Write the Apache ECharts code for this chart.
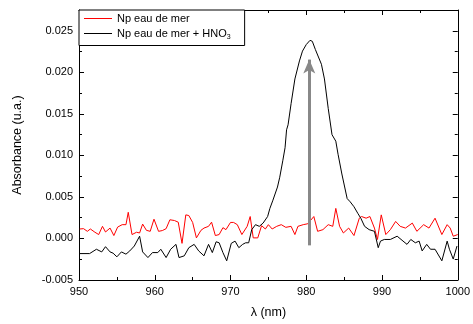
<!DOCTYPE html>
<html>
<head>
<meta charset="utf-8">
<script src="https://cdn.jsdelivr.net/npm/echarts@6/dist/echarts.min.js"></script>
<style>
  html, body { margin: 0; padding: 0; background: #fff; }
  #chart { width: 473px; height: 324px; }
</style>
</head>
<body>
<div id="chart"></div>
<script>
// wavelengths (nm) and absorbance
var redX = [950.1, 950.6, 951.1, 951.5, 952.1, 952.6, 953.1, 953.5, 954.1, 954.6, 955.1, 955.7, 956.2, 956.5, 957.0, 957.6, 958.0, 958.4, 958.9, 959.4, 959.9, 960.5, 961.0, 961.5, 962.0, 962.6, 963.1, 963.6, 964.1, 964.5, 965.0, 965.5, 966.1, 966.5, 967.1, 967.5, 968.0, 968.5, 969.0, 969.4, 970.0, 970.4, 970.9, 971.5, 972.2, 972.6, 973.0, 973.6, 974.1, 974.6, 975.0, 975.5, 976.1, 976.7, 977.3, 978.0, 978.5, 978.9, 979.6, 980.2, 981.0, 981.5, 982.2, 982.9, 983.5, 983.9, 984.4, 984.9, 985.6, 986.3, 987.0, 987.3, 987.9, 988.4, 989.0, 989.4, 989.9, 990.5, 991.1, 991.8, 992.4, 993.1, 994.0, 994.6, 995.5, 996.2, 997.0, 997.9, 998.6, 999.0, 999.4, 1000.0]
var redY = [0.00114, 0.00118, 0.00086, 0.00114, 0.00075, 0.00047, 0.00146, 0.00078, 0.00125, 0.00035, 0.00137, 0.00166, 0.00166, 0.00315, 0.00047, 0.00075, 0.00066, 0.00173, 0.00098, 0.00086, 0.00232, 0.00086, 0.00095, 0.00118, 0.00225, 0.00216, 0.00196, -0.00059, 0.00284, 0.00276, 0.00193, 0.00007, 0.00098, 0.00125, 0.00146, 0.00196, 0.00035, 0.00047, 0.00130, 0.00106, 0.00193, 0.00193, 0.00166, 0.00047, 0.00146, 0.00264, 0.00007, 0.00007, 0.00154, 0.00114, 0.00166, 0.00114, 0.00146, 0.00166, 0.00134, 0.00146, 0.00047, 0.00146, 0.00166, 0.00177, 0.00264, 0.00086, 0.00106, 0.00166, 0.00146, 0.00362, 0.00146, 0.00066, 0.00125, 0.00035, 0.00244, 0.00264, 0.00244, 0.00264, 0.00125, -0.00012, 0.00284, 0.00047, 0.00106, 0.00205, 0.00146, 0.00125, 0.00185, 0.00086, 0.00166, 0.00125, 0.00244, 0.00047, 0.00166, 0.00125, 0.00027, 0.00047]

var blackX = [950.1, 951.4, 952.3, 953.0, 953.5, 954.1, 954.5, 955.0, 955.6, 956.2, 956.7, 957.3, 958.0, 958.4, 959.1, 959.7, 960.4, 960.8, 961.5, 962.1, 962.8, 963.2, 963.9, 964.5, 965.2, 965.8, 966.5, 967.1, 967.6, 968.1, 968.5, 969.0, 969.5, 970.1, 970.6, 971.1, 971.6, 972.0, 972.4, 972.8, 973.3, 973.8, 974.3, 974.9, 975.2, 975.6, 976.2, 976.5, 976.9, 977.2, 977.4, 977.6, 978.0, 978.5, 979.1, 979.5, 980.0, 980.5, 980.8, 981.2, 982.0, 982.4, 982.9, 983.4, 983.9, 984.2, 984.7, 985.4, 985.8, 986.3, 986.8, 987.2, 987.7, 988.3, 989.0, 989.5, 989.8, 990.3, 991.1, 992.0, 993.3, 993.8, 994.4, 994.9, 995.3, 995.9, 996.4, 997.0, 997.9, 998.6, 998.9, 999.4, 999.9]
var blackY = [-0.00182, -0.00182, -0.00130, -0.00162, -0.00099, -0.00162, -0.00177, -0.00221, -0.00162, -0.00189, -0.00150, -0.00091, 0.00027, -0.00162, -0.00230, -0.00170, -0.00170, -0.00130, -0.00230, -0.00130, -0.00071, -0.00230, -0.00209, -0.00111, -0.00071, -0.00150, -0.00209, -0.00071, -0.00170, -0.00040, -0.00052, -0.00170, -0.00269, -0.00059, -0.00032, -0.00111, -0.00071, -0.00052, -0.00052, 0.00106, 0.00166, 0.00146, 0.00185, 0.00264, 0.00362, 0.00461, 0.00619, 0.00737, 0.00935, 0.01092, 0.01308, 0.01368, 0.01624, 0.01920, 0.02137, 0.02255, 0.02334, 0.02385, 0.02373, 0.02275, 0.02097, 0.01920, 0.01565, 0.01249, 0.01171, 0.01013, 0.00776, 0.00480, 0.00441, 0.00382, 0.00303, 0.00244, 0.00146, 0.00106, 0.00086, -0.00111, -0.00032, -0.00012, -0.00012, 0.00027, -0.00071, -0.00012, -0.00052, -0.00032, -0.00150, -0.00071, -0.00130, -0.00130, -0.00269, -0.00032, -0.00130, -0.00248, -0.00091]

// gray arrow: x position, bottom and tip
var arrowX = 980.4
var arrowFrom = -0.00083
var arrowTo = 0.02153

var seriesNames = ['Np eau de mer', 'Np eau de mer + HNO3']

function pairs(xs, ys) {
  return xs.map(function(x, i) { return [x, ys[i]] })
}

var font = 'Arial, "Liberation Sans", sans-serif'

function frameAxis(pos, extra) {
  return Object.assign({
    type: 'value',
    position: pos,
    axisLine: { show: true, onZero: false, lineStyle: { color: '#000', width: 1 } },
    axisTick: { show: true, inside: true, length: 5, lineStyle: { color: '#000' } },
    minorTick: { show: true, splitNumber: 2, length: 3, lineStyle: { color: '#000' } },
    axisLabel: { show: false },
    splitLine: { show: false },
    minorSplitLine: { show: false }
  }, extra)
}

var chart = echarts.init(document.getElementById('chart'), null, { renderer: 'canvas' })

var option = {
  animation: false,
  backgroundColor: '#fff',
  textStyle: { fontFamily: font },
  grid: { left: 79, right: 12, top: 10, bottom: 39 },
  legend: {
    orient: 'vertical',
    left: 79,
    top: 10,
    data: seriesNames,
    icon: 'rect',
    backgroundColor: '#fff',
    borderColor: '#000',
    borderWidth: 1,
    borderRadius: 0,
    padding: [3, 14, 5, 5],
    itemGap: 4,
    itemWidth: 28,
    itemHeight: 1,
    textStyle: {
      fontSize: 11,
      color: '#000',
      fontFamily: font,
      rich: {
        t: { fontSize: 11, color: '#000', fontFamily: font, lineHeight: 14 },
        s: { fontSize: 7, color: '#000', fontFamily: font, verticalAlign: 'bottom', lineHeight: 14, padding: [4, 0, 0, 0] }
      }
    },
    formatter: function(name) {
      if (name === 'Np eau de mer + HNO3') return '{t|Np eau de mer + HNO}{s|3}'
      return '{t|' + name + '}'
    }
  },
  xAxis: [
    frameAxis('bottom', {
      min: 950,
      max: 1000,
      interval: 10,
      name: 'λ (nm)',
      nameLocation: 'middle',
      nameGap: 26,
      nameTextStyle: { fontSize: 12.5, color: '#000', fontFamily: font },
      axisLabel: {
        show: true,
        margin: 6,
        fontSize: 11,
        color: '#000',
        fontFamily: font,
        formatter: function(v) { return String(v) }
      }
    }),
    frameAxis('top', { min: 950, max: 1000, interval: 10 })
  ],
  yAxis: [
    frameAxis('left', {
      min: -0.005,
      max: 0.0275,
      interval: 0.005,
      name: 'Absorbance (u.a.)',
      nameLocation: 'middle',
      nameGap: 55,
      nameTextStyle: { fontSize: 12.5, color: '#000', fontFamily: font },
      axisLabel: {
        show: true,
        margin: 6,
        fontSize: 11,
        color: '#000',
        fontFamily: font,
        showMaxLabel: false,
        formatter: function(v) { return v.toFixed(3) }
      }
    }),
    frameAxis('right', { min: -0.005, max: 0.0275, interval: 0.005 })
  ],
  series: [
    {
      name: seriesNames[0],
      type: 'line',
      data: pairs(redX, redY),
      symbol: 'none',
      lineStyle: { color: '#ff0000', width: 1 },
      itemStyle: { color: '#ff0000' }
    },
    {
      name: seriesNames[1],
      type: 'line',
      data: pairs(blackX, blackY),
      symbol: 'none',
      z: 3,
      lineStyle: { color: '#000', width: 1 },
      itemStyle: { color: '#000' },
      markLine: {
        silent: true,
        symbol: ['none', 'arrow'],
        symbolSize: [9, 14],
        label: { show: false },
        lineStyle: { color: '#888', width: 3, type: 'solid' },
        data: [[{ coord: [arrowX, arrowFrom] }, { coord: [arrowX, arrowTo] }]]
      }
    }
  ]
}

chart.setOption(option)
</script>
</body>
</html>
